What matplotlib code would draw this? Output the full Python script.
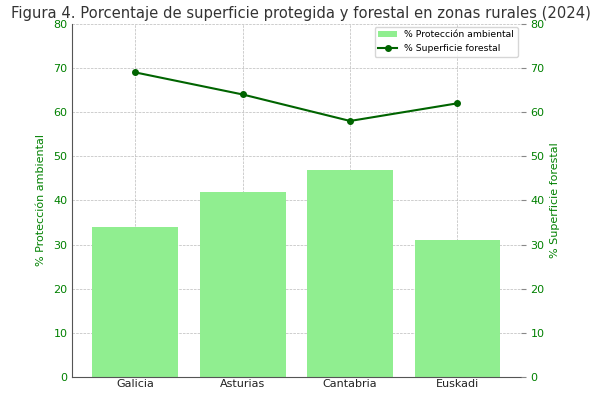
import numpy as np
import matplotlib
matplotlib.use("Agg")
import matplotlib.pyplot as plt

regiones = ["Galicia", "Asturias", "Cantabria", "Euskadi"]
proteccion = [34, 42, 47, 31]
forestal = [69, 64, 58, 62]

fig, ax1 = plt.subplots(figsize=(6, 3.98), dpi=100)
x = np.arange(len(regiones))

b = ax1.bar(x, proteccion, color="lightgreen", width=0.8, label="% Protección ambiental")
ax1.set_ylim(0, 80)
ax1.set_ylabel("% Protección ambiental", color="green", fontsize=8, labelpad=5)
ax1.tick_params(axis="y", labelcolor="green", labelsize=8, length=0, pad=3.2)
ax1.tick_params(axis="x", labelsize=8, length=0, pad=1.5, labelcolor="#222222")
ax1.set_xticks(x)
ax1.set_xticklabels(regiones)
ax1.grid(True, linestyle="--", linewidth=0.5, color="#bbbbbb")
ax1.set_axisbelow(True)

ax2 = ax1.twinx()
l, = ax2.plot(x, forestal, color="darkgreen", marker="o", markersize=4, linewidth=1.5,
              label="% Superficie forestal")
ax2.set_ylim(0, 80)
ax2.set_ylabel("% Superficie forestal", color="green", fontsize=8, labelpad=4)
ax2.tick_params(axis="y", labelcolor="green", labelsize=8, length=3.5, pad=3.5,
                color="#888888")

for ax in (ax1, ax2):
    ax.spines["top"].set_visible(False)
    ax.spines["right"].set_visible(False)
ax1.spines["left"].set_color("#555555")
ax1.spines["bottom"].set_color("#555555")
ax2.spines["left"].set_visible(False)
ax2.spines["bottom"].set_visible(False)

ax1.legend([b, l], [b.get_label(), l.get_label()], loc="upper right", fontsize=6.7,
           borderaxespad=0.3)
ax1.set_title("Figura 4. Porcentaje de superficie protegida y forestal en zonas rurales (2024)",
              fontsize=10.6, color="#333333", pad=4, x=0.51)

fig.subplots_adjust(left=0.12, right=0.868, top=0.94, bottom=0.053)
fig.savefig("out.png")
